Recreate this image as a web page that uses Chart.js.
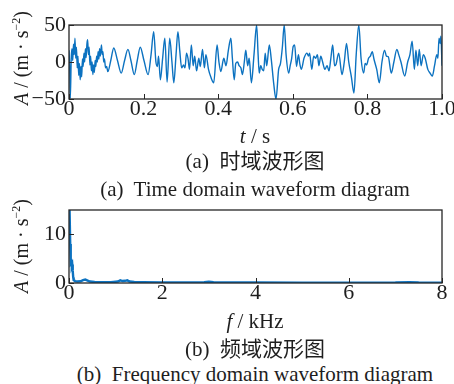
<!DOCTYPE html>
<html><head><meta charset="utf-8">
<script src="https://cdn.jsdelivr.net/npm/chart.js@4/dist/chart.umd.min.js"></script>
<style>
html,body{margin:0;padding:0;background:#fff;width:454px;height:384px;overflow:hidden}
#wrap{position:relative;width:454px;height:384px;font-family:"Liberation Serif","Noto Sans CJK SC",serif;color:#1e1e1e}
canvas{position:absolute;left:0}
.t{position:absolute;white-space:nowrap;font-size:21px;line-height:1;transform:translate(-50%,-50%)}
.yt{position:absolute;white-space:nowrap;font-size:20px;line-height:1;transform:translate(-50%,-50%) rotate(-90deg)}
.sup{font-size:12px;position:relative;top:-8px}
</style></head>
<body><div id="wrap">
<canvas id="c1" width="454" height="130" style="top:0"></canvas>
<canvas id="c2" width="454" height="125" style="top:190px"></canvas>
<div class="yt" style="left:21px;top:58px"><i>A</i> / (m · s<span class="sup">−2</span>)</div>
<div class="t" style="left:255px;top:136px"><i>t</i> / s</div>
<div class="t" style="left:255px;top:161px">(a)&nbsp; 时域波形图</div>
<div class="t" style="left:255px;top:189px">(a)&nbsp; Time domain waveform diagram</div>
<div class="yt" style="left:21px;top:246px"><i>A</i> / (m · s<span class="sup">−2</span>)</div>
<div class="t" style="left:255px;top:321px"><i>f</i> / kHz</div>
<div class="t" style="left:255px;top:349px">(b)&nbsp; 频域波形图</div>
<div class="t" style="left:255px;top:374px">(b)&nbsp; Frequency domain waveform diagram</div>
</div>
<script>
// ---- (a) time-domain waveform: time (s) and amplitude (m/s^2)
const waveT = [
 0, 0.002, 0.0035, 0.006, 0.008, 0.010, 0.012, 0.014, 0.016, 0.018,
 0.020, 0.022, 0.024, 0.026, 0.028, 0.030, 0.032, 0.034, 0.036, 0.038,
 0.040, 0.042, 0.044, 0.046, 0.048, 0.050, 0.052, 0.054, 0.056, 0.058,
 0.060, 0.062, 0.064, 0.066, 0.068, 0.070, 0.072, 0.074, 0.076, 0.078,
 0.080, 0.082, 0.084, 0.087, 0.089, 0.091, 0.093, 0.095, 0.098, 0.101,
 0.104, 0.112, 0.120, 0.130, 0.140, 0.149, 0.158, 0.166, 0.175, 0.183,
 0.191, 0.201, 0.212, 0.220, 0.227, 0.233, 0.237, 0.240, 0.245, 0.251,
 0.257, 0.263, 0.270, 0.276, 0.281, 0.287, 0.292, 0.297, 0.302, 0.307,
 0.311, 0.315, 0.319, 0.323, 0.328, 0.333, 0.337, 0.342, 0.348, 0.352,
 0.358, 0.363, 0.367, 0.374, 0.380, 0.388, 0.397, 0.402, 0.407, 0.415,
 0.421, 0.427, 0.434, 0.438, 0.443, 0.447, 0.452, 0.456, 0.461, 0.465,
 0.470, 0.474, 0.479, 0.483, 0.489, 0.496, 0.503, 0.507, 0.510, 0.514,
 0.518, 0.522, 0.526, 0.530, 0.537, 0.542, 0.549, 0.555, 0.562, 0.567,
 0.572, 0.577, 0.582, 0.589, 0.593, 0.597, 0.601, 0.605, 0.610, 0.615,
 0.619, 0.623, 0.630, 0.638, 0.642, 0.645, 0.651, 0.656, 0.661, 0.666,
 0.670, 0.675, 0.680, 0.686, 0.692, 0.697, 0.702, 0.707, 0.712, 0.716,
 0.723, 0.732, 0.738, 0.744, 0.750, 0.757, 0.764, 0.770, 0.777, 0.783,
 0.790, 0.794, 0.798, 0.803, 0.808, 0.813, 0.818, 0.825, 0.832, 0.839,
 0.846, 0.851, 0.856, 0.864, 0.871, 0.879, 0.884, 0.890, 0.900, 0.908,
 0.914, 0.920, 0.926, 0.930, 0.935, 0.939, 0.944, 0.950, 0.955, 0.962,
 0.968, 0.974, 0.980, 0.986, 0.989, 0.992, 0.995, 0.997, 1.000
];
const waveA = [
 16, -10, -49, 5, 18, 2, 24, 10, 32, 5,
 20, -8, 8, -18, -2, -24, -6, -20, 4, -6,
 12, 0, 18, 6, 24, 30, 10, 20, -4, 8,
 -12, 0, -17, -4, -14, 2, -6, 8, 0, 14,
 4, 18, 8, 23, 10, 14, 0, 4, -8, -6,
 -13, 2, 19, 2, -15, 2, 17, 2, -17, 2,
 20, 2, -17, 10, 41, 0, -6, 8, -24, 5,
 32, -27, 32, 0, -28, 10, 41, 15, -8, -4,
 -8, 12, 5, -10, 23, -5, 8, -12, 5, -6,
 17, -8, 10, -10, -20, -28, 23, 0, -13, 5,
 -5, 15, 32, 5, -24, -2, 0, -5, -8, -17,
 0, 16, -5, 5, -28, 10, 50, 10, -15, -5,
 -10, -12, 12, -5, 23, 5, -30, -50, -10, -2,
 20, 50, 10, -15, -5, 5, 21, 23, -6, 10,
 -3, -10, 5, 12, 8, 12, -10, 8, 5, 10,
 -5, 8, 0, -10, -5, -12, 5, 23, -5, -3,
 12, -17, 0, 25, 0, -20, -42, 10, 50, 5,
 -15, -2, -4, 5, 8, 14, 3, -10, -28, 0,
 16, 8, 7, -15, 0, 17, 10, 0, -19, 0,
 10, 28, -10, 16, -5, 17, -5, 10, 5, -10,
 -15, -19, -5, 10, 5, 32, 25, 35, -5
];
const tTicks = [0, 0.2, 0.4, 0.6, 0.8, 1.0];
const aTicks = [-50, 0, 50];

// ---- (b) frequency-domain spectrum: frequency (kHz) and amplitude
const specF = [0, 0.006, 0.012, 0.018, 0.026, 0.034, 0.04, 0.05, 0.06, 0.07, 0.08, 0.09, 0.1, 0.13, 0.18, 0.25, 0.3, 0.35, 0.4, 0.45, 0.55, 0.7, 0.9, 1.05, 1.1, 1.15, 1.2, 1.25, 1.3, 1.4, 1.6, 2.0, 2.5, 2.9, 3.0, 3.1, 3.5, 4.0, 5.0, 6.0, 7.0, 7.3, 7.5, 8.0];
const specA = [15, 15, 12, 15, 8, 5, 4, 4.2, 3.5, 3.8, 2.5, 1.2, 0.6, 0.4, 0.3, 0.35, 0.6, 0.7, 0.5, 0.3, 0.2, 0.15, 0.15, 0.3, 0.55, 0.4, 0.45, 0.55, 0.3, 0.2, 0.15, 0.1, 0.1, 0.15, 0.25, 0.15, 0.1, 0.1, 0.08, 0.08, 0.1, 0.18, 0.1, 0.08];
const fTicks = [0, 2, 4, 6, 8];
const sTicks = [0, 10];

const LINE = '#0c72c0', INK = '#1e1e1e', FONT = 'Liberation Serif';

const frameTicks = {
  id: 'frameTicks',
  afterDatasetsDraw(chart) {
    const {ctx, chartArea: a, scales: {x, y}} = chart;
    ctx.save();
    ctx.strokeStyle = '#262626';
    ctx.lineWidth = 1;
    ctx.beginPath();
    x.ticks.forEach(t => { const px = Math.round(x.getPixelForValue(t.value)) + 0.5; ctx.moveTo(px, a.bottom); ctx.lineTo(px, a.bottom - 5); });
    y.ticks.forEach(t => { const py = Math.round(y.getPixelForValue(t.value)) + 0.5; ctx.moveTo(a.left, py); ctx.lineTo(a.left + 5, py); });
    ctx.stroke();
    ctx.lineWidth = 1.3;
    ctx.strokeRect(a.left, a.top, a.right - a.left, a.bottom - a.top);
    ctx.restore();
  }
};

function xScale(min, max, ticks, fmt, h) {
  return {
    type: 'linear', min, max,
    afterBuildTicks: s => { s.ticks = ticks.map(v => ({value: v})); },
    afterFit: s => { s.height = h; s.paddingLeft = 0; s.paddingRight = 0; },
    grid: {display: false, drawTicks: false}, border: {display: false},
    ticks: {padding: -1, color: INK, maxRotation: 0, autoSkip: false,
      font: {family: FONT, size: 22, lineHeight: 1}, callback: fmt}
  };
}
function yScale(min, max, ticks, fmt) {
  return {
    type: 'linear', min, max,
    afterBuildTicks: s => { s.ticks = ticks.map(v => ({value: v})); },
    afterFit: s => { s.width = 69; s.paddingTop = 0; s.paddingBottom = 0; },
    grid: {display: false, drawTicks: false}, border: {display: false},
    ticks: {padding: 3, color: INK, autoSkip: false,
      font: {family: FONT, size: 22, lineHeight: 1}, callback: fmt}
  };
}
const signFmt = v => v < 0 ? '\u2212' + Math.abs(v) : String(v);

new Chart(document.getElementById('c1'), {
  type: 'line',
  data: {datasets: [{
    data: waveT.map((t, i) => ({x: t, y: waveA[i]})),
    borderColor: LINE, borderWidth: 1.4, pointRadius: 0,
    cubicInterpolationMode: 'monotone', fill: false
  }]},
  options: {
    responsive: false, animation: false, devicePixelRatio: 1,
    layout: {padding: {top: 25, right: 12, left: 0, bottom: 0}},
    plugins: {legend: {display: false}, tooltip: {enabled: false}},
    scales: {
      x: xScale(0, 1, tTicks, v => v === 0 ? '0' : v.toFixed(1), 31),
      y: yScale(-50, 50, aTicks, signFmt)
    }
  },
  plugins: [frameTicks]
});

new Chart(document.getElementById('c2'), {
  type: 'line',
  data: {datasets: [{
    data: specF.map((f, i) => ({x: f, y: specA[i]})),
    borderColor: LINE, borderWidth: 2.4, pointRadius: 0, tension: 0, fill: false
  }]},
  options: {
    responsive: false, animation: false, devicePixelRatio: 1,
    layout: {padding: {top: 20, right: 12, left: 0, bottom: 0}},
    plugins: {legend: {display: false}, tooltip: {enabled: false}},
    scales: {
      x: xScale(0, 8, fTicks, v => String(v), 32),
      y: yScale(0, 15, sTicks, signFmt)
    }
  },
  plugins: [frameTicks]
});
</script>
</body></html>
